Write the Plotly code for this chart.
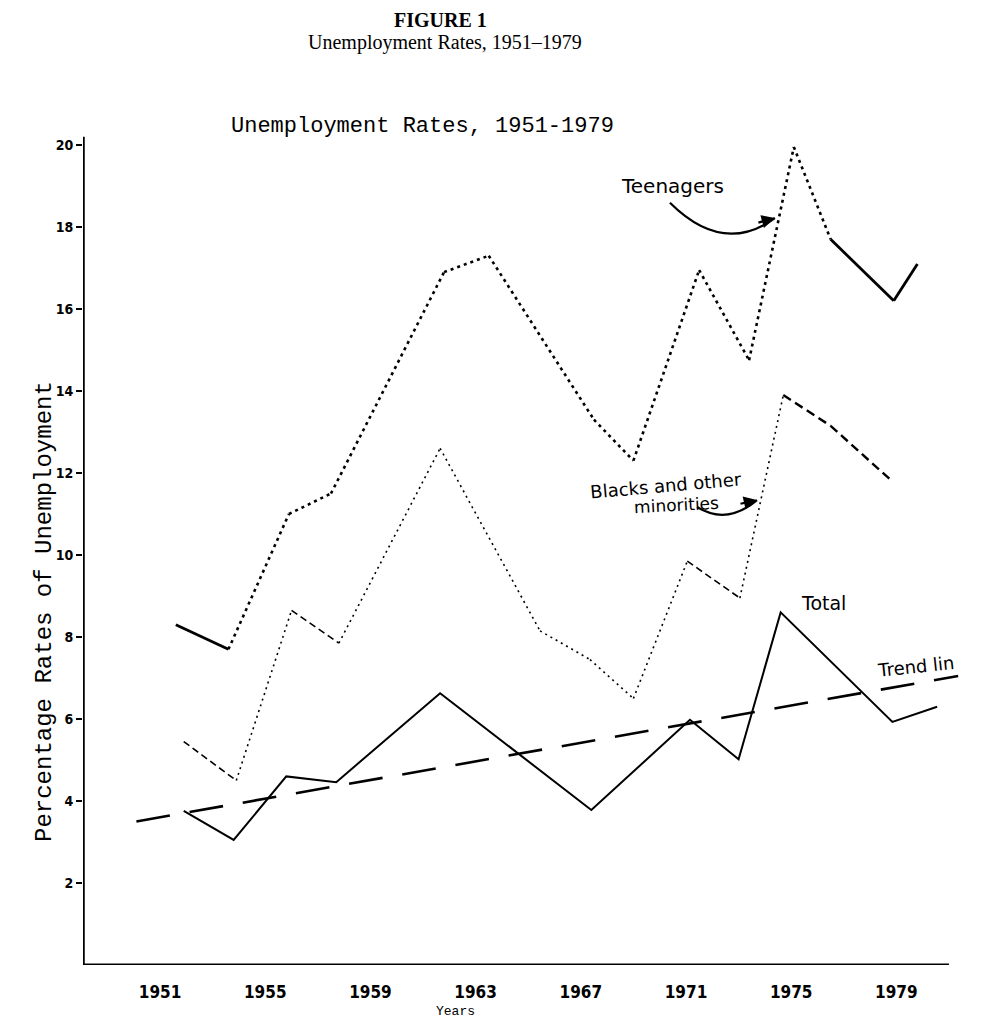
import plotly.graph_objects as go

# ---------------- data ----------------
teen_years = [1951.6, 1953.6, 1955.9, 1957.5, 1961.8, 1963.5, 1967.5, 1969.0,
              1971.5, 1973.4, 1975.1, 1976.5, 1978.9, 1979.8]
teen_rates = [8.3, 7.7, 11.0, 11.5, 16.9, 17.3, 13.3, 12.3,
              16.95, 14.75, 19.95, 17.7, 16.2, 17.1]

black_years = [1951.9, 1953.9, 1956.0, 1957.8, 1961.65, 1965.45, 1967.35, 1969.0,
               1971.05, 1973.05, 1974.7, 1976.5, 1978.75]
black_rates = [5.45, 4.5, 8.65, 7.85, 12.6, 8.15, 7.45, 6.5,
               9.85, 8.95, 13.9, 13.15, 11.85]

total_years = [1951.9, 1953.8, 1955.8, 1957.7, 1961.65, 1967.4, 1971.15, 1973.0,
               1974.6, 1978.85, 1980.55]
total_rates = [3.76, 3.05, 4.6, 4.46, 6.63, 3.78, 5.98, 5.02,
               8.6, 5.93, 6.3]

trend_years = [1950.1, 1981.35]
trend_rates = [3.5, 7.05]

x_tick_years = [1951, 1955, 1959, 1963, 1967, 1971, 1975, 1979]
y_tick_values = [2, 4, 6, 8, 10, 12, 14, 16, 18, 20]

title_top = "FIGURE 1"
title_sub = "Unemployment Rates, 1951\u20131979"
title_inner = "Unemployment Rates, 1951-1979"
y_label = "Percentage Rates of Unemployment"
x_label = "Years"

# ---------------- styling (segment groups by index) ----------------
teen_solid_segs = [(0, 1), (11, 12), (12, 13)]
black_dash_segs = [(0, 1), (2, 3), (8, 9)]
black_heavy_segs = [(10, 11), (11, 12)]

X_RANGE = [1948.07, 1981.8]
Y_RANGE = [0, 20.366]


def seg_xy(xs, ys, segs):
    ox, oy = [], []
    for a, b in segs:
        ox += [xs[a], xs[b], None]
        oy += [ys[a], ys[b], None]
    return ox, oy


def rest_segs(n, exclude):
    return [(i, i + 1) for i in range(n - 1) if (i, i + 1) not in exclude]


fig = go.Figure()

# Trend line
fig.add_trace(go.Scatter(x=trend_years, y=trend_rates, mode="lines",
                         line=dict(color="black", width=2.6, dash="34px,20px"),
                         hoverinfo="skip", showlegend=False))

# Total
fig.add_trace(go.Scatter(x=total_years, y=total_rates, mode="lines",
                         line=dict(color="black", width=2),
                         hoverinfo="skip", showlegend=False))

# Blacks and other minorities
bx, by = seg_xy(black_years, black_rates,
                rest_segs(len(black_years), black_dash_segs + black_heavy_segs))
fig.add_trace(go.Scatter(x=bx, y=by, mode="lines",
                         line=dict(color="black", width=1.6, dash="2px,4px"),
                         hoverinfo="skip", showlegend=False))
bx, by = seg_xy(black_years, black_rates, black_dash_segs)
fig.add_trace(go.Scatter(x=bx, y=by, mode="lines",
                         line=dict(color="black", width=1.6, dash="7px,4px"),
                         hoverinfo="skip", showlegend=False))
bx, by = seg_xy(black_years, black_rates, black_heavy_segs)
fig.add_trace(go.Scatter(x=bx, y=by, mode="lines",
                         line=dict(color="black", width=2.4, dash="9px,5px"),
                         hoverinfo="skip", showlegend=False))

# Teenagers
tx, ty = seg_xy(teen_years, teen_rates, rest_segs(len(teen_years), teen_solid_segs))
fig.add_trace(go.Scatter(x=tx, y=ty, mode="lines",
                         line=dict(color="black", width=2.6, dash="3px,4px"),
                         hoverinfo="skip", showlegend=False))
tx, ty = seg_xy(teen_years, teen_rates, teen_solid_segs)
fig.add_trace(go.Scatter(x=tx, y=ty, mode="lines",
                         line=dict(color="black", width=2.8),
                         hoverinfo="skip", showlegend=False))

shapes = [
    # y axis line
    dict(type="line", xref="x", yref="y", x0=X_RANGE[0], x1=X_RANGE[0], y0=0, y1=20.2,
         line=dict(color="black", width=3.5)),
    # x axis line
    dict(type="line", xref="x", yref="y", x0=X_RANGE[0], x1=1981.0, y0=0, y1=0,
         line=dict(color="black", width=3)),
    # curved arrows (hand-drawn pointers)
    dict(type="path", xref="x", yref="y",
         path="M 1970.39,18.59 Q 1972.41,17.30 1974.38,18.22",
         line=dict(color="black", width=2.2)),
    dict(type="path", xref="x", yref="y",
         path="M 1971.42,11.17 Q 1972.56,10.72 1973.70,11.34",
         line=dict(color="black", width=2.2)),
]

hand = dict(family="DejaVu Sans, Liberation Sans, sans-serif", color="black")
mono = "Liberation Mono, DejaVu Sans Mono, monospace"
serif = "Liberation Serif, DejaVu Serif, serif"

annotations = [
    dict(text="<b>" + title_top + "</b>", xref="paper", yref="paper", x=0.4025, y=1.1461,
         showarrow=False, font=dict(family=serif, size=20, color="black"),
         xanchor="center", yanchor="top", borderpad=0),
    dict(text=title_sub, xref="paper", yref="paper", x=0.4081, y=1.1042,
         showarrow=False, font=dict(family=serif, size=20, color="black"),
         xanchor="center", yanchor="middle"),
    dict(text=title_inner, xref="paper", yref="paper", x=0.3822, y=1.0036,
         showarrow=False, font=dict(family=mono, size=22, color="black"),
         xanchor="center", yanchor="middle"),
    dict(text=y_label, xref="paper", yref="paper", x=-0.0428, y=0.4228, textangle=-90,
         showarrow=False, font=dict(family=mono, size=24, color="black"),
         xanchor="center", yanchor="middle"),
    dict(text=x_label, xref="paper", yref="paper", x=0.4194, y=-0.0551,
         showarrow=False, font=dict(family=mono, size=13, color="black"),
         xanchor="center", yanchor="middle", borderpad=0),
    dict(text="Teenagers", x=1970.5, y=19.0, showarrow=False,
         font=dict(size=20, **hand), xanchor="center", yanchor="middle"),
    dict(text="Blacks and other", x=1970.24, y=11.70, showarrow=False, textangle=-5,
         font=dict(size=18, **hand), xanchor="center", yanchor="middle"),
    dict(text="minorities", x=1970.62, y=11.22, showarrow=False, textangle=-3,
         font=dict(size=17, **hand), xanchor="center", yanchor="middle"),
    dict(text="Total", x=1976.21, y=8.83, showarrow=False,
         font=dict(size=19, **hand), xanchor="center", yanchor="middle"),
    dict(text="Trend lin", x=1979.71, y=7.28, showarrow=False, textangle=-6,
         font=dict(size=18, **hand), xanchor="center", yanchor="middle"),
    # arrow heads
    dict(text="", x=1974.38, y=18.22, ax=-18, ay=5, showarrow=True,
         arrowhead=2, arrowsize=1.2, arrowwidth=2.2, arrowcolor="black"),
    dict(text="", x=1973.70, y=11.34, ax=-18, ay=4, showarrow=True,
         arrowhead=2, arrowsize=1.2, arrowwidth=2.2, arrowcolor="black"),
]

# The page body adds an 8px offset; margins compensate so the plot area
# lands at x 83..970, y 130..965 in the window.
fig.update_layout(
    width=983, height=1010,
    margin=dict(l=75, r=21, t=122, b=53),
    paper_bgcolor="white", plot_bgcolor="white",
    showlegend=False,
    shapes=shapes,
    annotations=annotations,
    xaxis=dict(range=X_RANGE, tickvals=x_tick_years,
               ticktext=[str(v) for v in x_tick_years],
               showgrid=False, zeroline=False, showline=False, ticks="",
               ticklabelstandoff=15,
               tickfont=dict(family="DejaVu Sans Condensed, Liberation Sans Narrow, Liberation Sans, sans-serif",
                             size=17, color="black", weight="bold")),
    yaxis=dict(range=Y_RANGE, tickvals=y_tick_values,
               ticktext=[str(v) for v in y_tick_values],
               showgrid=False, zeroline=False, showline=False,
               ticks="outside", ticklen=6, tickwidth=2, tickcolor="black",
               tickfont=dict(family="DejaVu Sans Condensed, Liberation Sans, sans-serif",
                             size=14, color="black", weight="bold")),
)

fig.write_html("out.html")
